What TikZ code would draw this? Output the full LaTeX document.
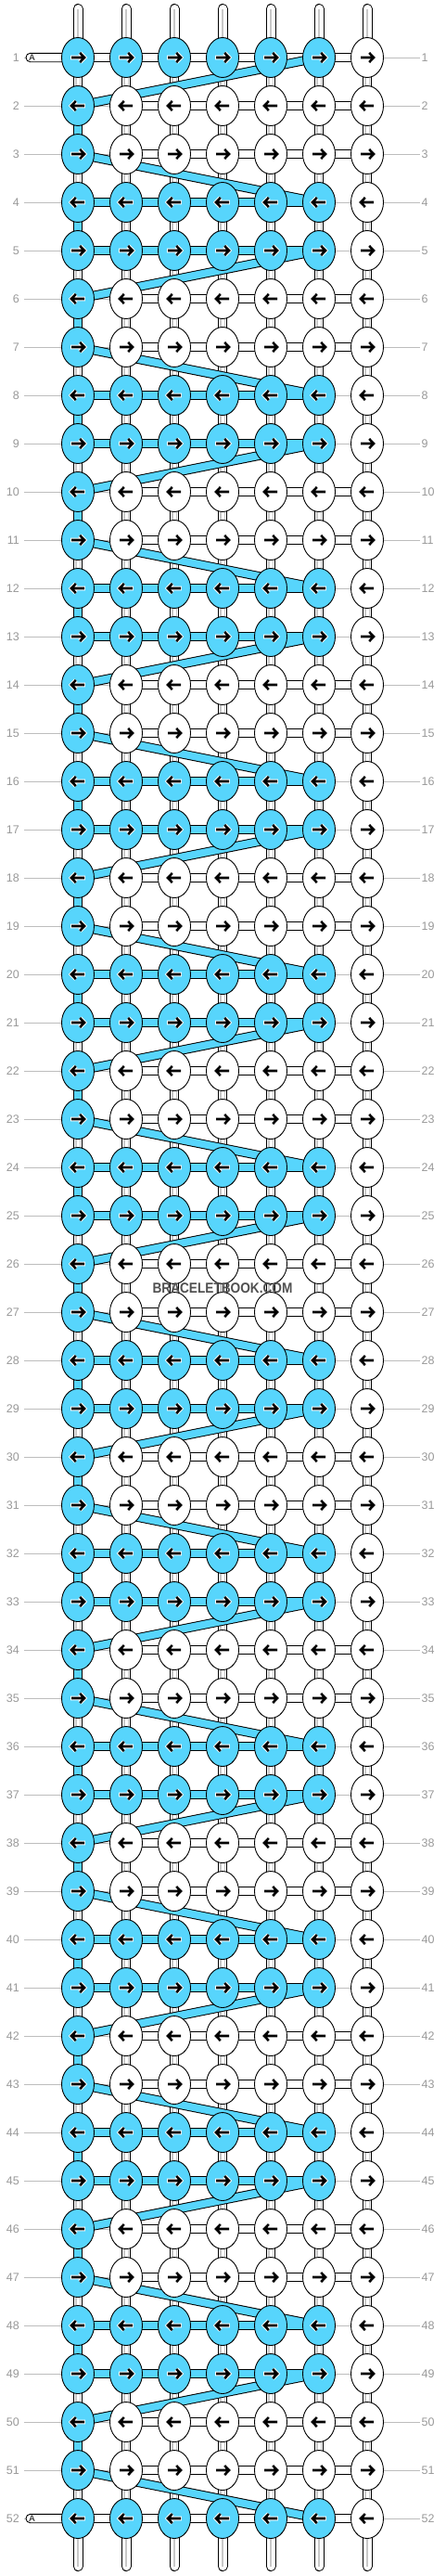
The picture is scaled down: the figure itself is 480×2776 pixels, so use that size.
\documentclass[tikz,border=0pt]{standalone}
\usepackage{fontspec}
\setmainfont{Liberation Sans}
\usetikzlibrary{shapes.geometric}
\definecolor{bb}{HTML}{57D5FC}
\definecolor{lab}{HTML}{999999}
\definecolor{rl}{HTML}{BDBDBD}
\definecolor{il}{HTML}{C8C8C8}
\definecolor{wm}{HTML}{505050}
\tikzset{
  knot/.style={ellipse,draw=black,line width=0.9pt,minimum width=35pt,minimum height=43pt,inner sep=0pt},
  lbl/.style={text=lab,font=\fontsize{12.5}{14}\selectfont,inner sep=0pt},
  outl/.style={draw=black,line width=10.6pt},
  vfill/.style={line width=8.6pt},
  bandout/.style={draw=black,line width=10pt},
  bandfill/.style={draw=bb,line width=8pt},
  rowline/.style={draw=rl,line width=1pt},
  innerline/.style={draw=il,line width=1.2pt},
  dblout/.style={draw=il,line width=5.4pt},
  dblin/.style={draw=white,line width=3pt},
  pillbox/.style={draw=black,fill=white,line width=0.9pt,rounded corners=4.6pt},
}
\begin{document}
\begin{tikzpicture}[x=1pt,y=-1pt]
\useasboundingbox (0,0) rectangle (480,2776);
\fill[white] (0,0) rectangle (480,2776);
% grid coordinates
\foreach \r in {1,...,52}{
  \foreach \c in {1,...,7}{
    \coordinate (p-\r-\c) at ({84+52*(\c-1)},{62+52*(\r-1)});
  }
}
% row lines and labels
\foreach \r in {1,...,52}{
  \coordinate (ll-\r) at (26,{62+52*(\r-1)});
  \coordinate (lr-\r) at (453,{62+52*(\r-1)});
  \draw[rowline] (ll-\r) -- (lr-\r);
  \node[lbl,anchor=east] (nl-\r) at (21,{62+52*(\r-1)}) {\r};
  \node[lbl,anchor=west] (nr-\r) at (454.5,{62+52*(\r-1)}) {\r};
}
% top and bottom stubs
\foreach \c in {1,...,7}{
  \coordinate (t-\c) at ({84+52*(\c-1)},9.5);
  \coordinate (b-\c) at ({84+52*(\c-1)},2765.5);
  \draw[black,line width=11pt,line cap=round] (t-\c) -- (p-1-\c);
  \draw[white,line width=9pt,line cap=round] (t-\c) -- (p-1-\c);
  \draw[innerline] (t-\c) -- (p-1-\c);
  \draw[black,line width=11pt,line cap=round] (b-\c) -- (p-52-\c);
  \draw[white,line width=9pt,line cap=round] (b-\c) -- (p-52-\c);
  \draw[innerline] (b-\c) -- (p-52-\c);
}
% vertical connectors
\foreach \r in {1,...,51}{
  \pgfmathtruncatemacro\rr{\r+1}
  \pgfmathtruncatemacro\m{mod(\r,4)}
  \foreach \c in {1,...,7}{
    \pgfmathtruncatemacro\isb{and(\c==1,or(\m==0,\m==2))}
    \draw[outl] (p-\r-\c) -- (p-\rr-\c);
    \ifnum\isb=1
      \draw[vfill,bb] (p-\r-\c) -- (p-\rr-\c);
    \else
      \draw[vfill,white] (p-\r-\c) -- (p-\rr-\c);
      \draw[dblout] (p-\r-\c) -- (p-\rr-\c);
      \draw[dblin] (p-\r-\c) -- (p-\rr-\c);
    \fi
  }
}
% white horizontal bars
\foreach \r in {1,...,52}{
  \pgfmathtruncatemacro\m{mod(\r,4)}
  \foreach \c in {1,...,6}{
    \pgfmathtruncatemacro\cc{\c+1}
    \pgfmathtruncatemacro\kind{ifthenelse(or(\r==1,\r==52),1,ifthenelse(or(\m==1,\m==0),ifthenelse(\c<6,2,0),ifthenelse(\c>1,1,0)))}
    \ifnum\kind=1
      \draw[outl] (p-\r-\c) -- (p-\r-\cc);
      \draw[vfill,white] (p-\r-\c) -- (p-\r-\cc);
    \fi
  }
}
% outlines of blue bars and bands
\foreach \r in {2,...,51}{
  \pgfmathtruncatemacro\m{mod(\r,4)}
  \ifnum\m=1 \foreach \c in {1,...,5}{\pgfmathtruncatemacro\cc{\c+1}\draw[outl] (p-\r-\c) -- (p-\r-\cc);}\fi
  \ifnum\m=0 \foreach \c in {1,...,5}{\pgfmathtruncatemacro\cc{\c+1}\draw[outl] (p-\r-\c) -- (p-\r-\cc);}\fi
}
\foreach \k in {0,...,12}{
  \pgfmathtruncatemacro\ra{1+4*\k}
  \pgfmathtruncatemacro\rb{2+4*\k}
  \pgfmathtruncatemacro\rc{3+4*\k}
  \pgfmathtruncatemacro\rd{4+4*\k}
  \draw[bandout] (p-\ra-6) -- (p-\rb-1);
  \draw[bandout] (p-\rc-1) -- (p-\rd-6);
}
% fills of blue bars and bands
\foreach \r in {2,...,51}{
  \pgfmathtruncatemacro\m{mod(\r,4)}
  \ifnum\m=1 \foreach \c in {1,...,5}{\pgfmathtruncatemacro\cc{\c+1}\draw[vfill,bb] (p-\r-\c) -- (p-\r-\cc);}\fi
  \ifnum\m=0 \foreach \c in {1,...,5}{\pgfmathtruncatemacro\cc{\c+1}\draw[vfill,bb] (p-\r-\c) -- (p-\r-\cc);}\fi
}
\foreach \k in {0,...,12}{
  \pgfmathtruncatemacro\ra{1+4*\k}
  \pgfmathtruncatemacro\rb{2+4*\k}
  \pgfmathtruncatemacro\rc{3+4*\k}
  \pgfmathtruncatemacro\rd{4+4*\k}
  \draw[bandfill] (p-\ra-6) -- (p-\rb-1);
  \draw[bandfill] (p-\rc-1) -- (p-\rd-6);
}
% A pills
\foreach \r in {1,52}{
  \draw[pillbox] (28,{62+52*(\r-1)-4.7}) rectangle (76,{62+52*(\r-1)+4.7});
  \node[font=\fontsize{9.5}{10}\selectfont,anchor=west,inner sep=0pt] (pa-\r) at (31.2,{62+52*(\r-1)}) {A};
}
% knots and arrows
\foreach \r in {1,...,52}{
  \pgfmathtruncatemacro\m{mod(\r,4)}
  \pgfmathtruncatemacro\dir{ifthenelse(or(\m==1,\m==3),1,-1)}
  \foreach \c in {1,...,7}{
    \pgfmathtruncatemacro\isb{ifthenelse(or(\m==1,\m==0),\c<7,\c==1)}
    \ifnum\isb=1 \def\fc{bb}\else\def\fc{white}\fi
    \node[knot,fill=\fc] (k-\r-\c) at (p-\r-\c) {};
    \begin{scope}[shift={(p-\r-\c)},xscale=\dir]
      \ifnum\isb=1
        \draw[white,line width=4.6pt] (-7.8,0) -- (7,0) (2.2,-5) -- (7,0) -- (2.2,5);
      \fi
      \draw[black,line width=2.6pt] (-7,0) -- (7,0) (2.2,-5) -- (7,0) -- (2.2,5);
    \end{scope}
  }
}
% watermark
\node[font=\bfseries\fontsize{15.5}{17}\selectfont,text=wm,xscale=0.88,inner sep=0pt] (wm) at (240,1388) {BRACELETBOOK.COM};
\end{tikzpicture}
\end{document}
